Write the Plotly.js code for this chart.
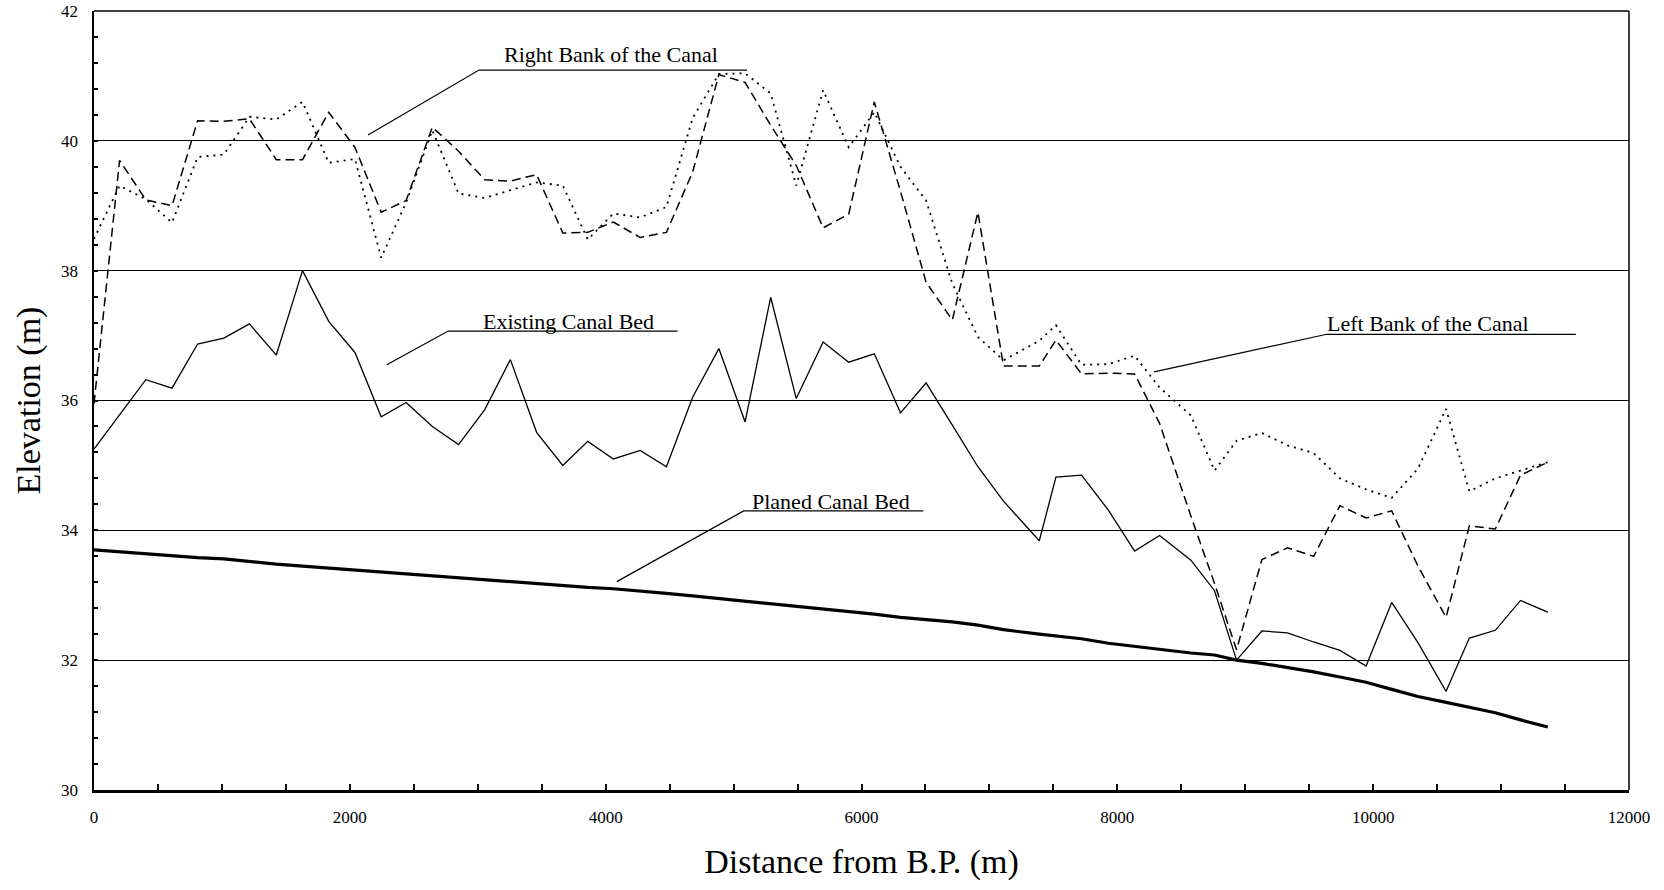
<!DOCTYPE html>
<html>
<head>
<meta charset="utf-8">
<script src="https://cdn.plot.ly/plotly-3.0.1.min.js"></script>
<style>
  html, body { margin: 0; padding: 0; background: #ffffff; }
  #chart { width: 1664px; height: 890px; }
</style>
</head>
<body>
<div id="chart"></div>
<script>
// Distance from B.P. (m) of the survey stations
const distance = [0, 200, 405, 610, 810, 1015, 1215, 1425, 1630, 1835,
  2040, 2245, 2440, 2645, 2850, 3055, 3255, 3460, 3665, 3860,
  4060, 4270, 4475, 4680, 4885, 5090, 5290, 5490, 5700, 5900,
  6100, 6305, 6505, 6710, 6910, 7110, 7390, 7520, 7720, 7930,
  8135, 8330, 8575, 8760, 8932, 9130, 9330, 9535, 9740, 9945,
  10145, 10350, 10570, 10752, 10955, 11152, 11365];

// Elevations (m)
const existingBed = [35.25, 35.78, 36.32, 36.19, 36.87, 36.96, 37.18, 36.70, 38.00, 37.22,
  36.74, 35.75, 35.97, 35.60, 35.32, 35.86, 36.63, 35.51, 35.00, 35.37,
  35.10, 35.23, 34.98, 36.05, 36.80, 35.67, 37.59, 36.03, 36.90, 36.59,
  36.72, 35.81, 36.27, 35.62, 34.98, 34.45, 33.84, 34.82, 34.85, 34.31,
  33.68, 33.92, 33.54, 33.07, 32.00, 32.45, 32.42, 32.28, 32.15, 31.91,
  32.89, 32.27, 31.52, 32.34, 32.46, 32.92, 32.74];

const bankDashed = [35.95, 39.70, 39.09, 39.00, 40.31, 40.30, 40.34, 39.71, 39.71, 40.44,
  39.90, 38.90, 39.08, 40.21, 39.84, 39.40, 39.38, 39.48, 38.58, 38.59,
  38.75, 38.51, 38.59, 39.52, 41.02, 40.90, 40.24, 39.62, 38.66, 38.87,
  40.60, 39.22, 37.82, 37.24, 38.90, 36.53, 36.53, 36.93, 36.41, 36.42,
  36.41, 35.65, 34.22, 33.18, 32.16, 33.55, 33.73, 33.60, 34.38, 34.19,
  34.30, 33.45, 32.66, 34.07, 34.02, 34.85, 35.05];

const bankDotted = [38.49, 39.31, 39.10, 38.74, 39.75, 39.79, 40.37, 40.33, 40.60, 39.66,
  39.72, 38.20, 39.05, 40.16, 39.19, 39.12, 39.24, 39.36, 39.31, 38.48,
  38.88, 38.82, 38.98, 40.35, 41.03, 41.04, 40.73, 39.31, 40.78, 39.90,
  40.44, 39.60, 39.08, 37.80, 36.98, 36.62, 36.92, 37.16, 36.55, 36.56,
  36.69, 36.20, 35.77, 34.92, 35.38, 35.50, 35.31, 35.19, 34.80, 34.63,
  34.50, 34.95, 35.87, 34.60, 34.80, 34.92, 35.05];

const plannedBed = [33.70, 33.67, 33.64, 33.61, 33.58, 33.56, 33.52, 33.48, 33.45, 33.42,
  33.39, 33.35, 33.32, 33.29, 33.27, 33.23, 33.21, 33.18, 33.15, 33.12,
  33.10, 33.07, 33.03, 32.99, 32.95, 32.91, 32.88, 32.83, 32.79, 32.75,
  32.71, 32.66, 32.63, 32.59, 32.54, 32.47, 32.40, 32.37, 32.33, 32.26,
  32.21, 32.16, 32.11, 32.08, 32.00, 31.95, 31.89, 31.82, 31.74, 31.66,
  31.55, 31.44, 31.35, 31.28, 31.19, 31.08, 30.97];

const labels = ['Right Bank of the Canal', 'Existing Canal Bed', 'Planed Canal Bed', 'Left Bank of the Canal'];
const xTitle = 'Distance from B.P. (m)';
const yTitle = 'Elevation (m)';

const FONT = '"Liberation Serif", "Times New Roman", Times, serif';

const traces = [
  { x: distance, y: bankDotted, mode: 'lines', name: 'Bank (dotted)',
    line: { color: '#000', width: 1.8, dash: '2px,5px' } },
  { x: distance, y: bankDashed, mode: 'lines', name: 'Bank (dashed)',
    line: { color: '#000', width: 1.5, dash: '9px,5px' } },
  { x: distance, y: existingBed, mode: 'lines', name: labels[1],
    line: { color: '#000', width: 1.3 } },
  { x: distance, y: plannedBed, mode: 'lines', name: labels[2],
    line: { color: '#000', width: 3.2 } }
];

// callout leader lines (label positions, in axis units)
const leaders = [
  'M 2142,40.09 L 3010,41.09 L 5105,41.09',
  'M 2289,36.55 L 2769,37.07 L 4562,37.07',
  'M 4087,33.21 L 5079,34.30 L 6483,34.30',
  'M 8287,36.44 L 9637,37.02 L 11584,37.02'
];
const labelPos = [
  { x: 3187, y: 41.33 },
  { x: 3029, y: 37.22 },
  { x: 5129, y: 34.44 },
  { x: 9624, y: 37.19 }
];

const shapes = leaders.map(p => ({
  type: 'path', xref: 'x', yref: 'y', path: p,
  line: { color: '#000', width: 1.2 }
}));
shapes.push({ type: 'line', xref: 'paper', yref: 'paper', x0: 1, x1: 1, y0: 0, y1: 1,
  line: { color: '#000', width: 1.5 } });
shapes.push({ type: 'line', xref: 'paper', yref: 'paper', x0: 0, x1: 1, y0: 1, y1: 1,
  line: { color: '#000', width: 1.5 } });

const annotations = labels.map((t, i) => ({
  text: t, x: labelPos[i].x, y: labelPos[i].y, xref: 'x', yref: 'y',
  xanchor: 'left', yanchor: 'middle', showarrow: false,
  font: { family: FONT, size: 22, color: '#000' }
}));

const layout = {
  width: 1664, height: 890,
  margin: { l: 94, r: 35, t: 11, b: 100, pad: 0 },
  paper_bgcolor: '#fff', plot_bgcolor: '#fff',
  showlegend: false,
  font: { family: FONT, color: '#000' },
  xaxis: {
    range: [0, 12000], tick0: 0, dtick: 2000, tickformat: 'd',
    ticks: 'inside', ticklen: 6, tickwidth: 2, tickcolor: '#000',
    showline: true, linewidth: 2.5, linecolor: '#000',
    showgrid: false, zeroline: false, automargin: false,
    tickfont: { family: FONT, size: 17, color: '#000' },
    ticklabelstandoff: 10,
    minor: { dtick: 500, tick0: 0, ticks: 'inside', ticklen: 6, tickwidth: 2, tickcolor: '#000', showgrid: false },
    title: { text: xTitle, font: { family: FONT, size: 34, color: '#000' }, standoff: 24 }
  },
  yaxis: {
    range: [30, 42], tick0: 30, dtick: 2,
    ticks: 'inside', ticklen: 4, tickwidth: 2, tickcolor: '#000',
    showline: true, linewidth: 2.5, linecolor: '#000',
    showgrid: true, gridcolor: '#000', gridwidth: 1.2, zeroline: false, automargin: false,
    tickfont: { family: FONT, size: 17, color: '#000' },
    ticklabelstandoff: 10,
    minor: { dtick: 0.4, tick0: 30, ticks: 'inside', ticklen: 4, tickwidth: 2, tickcolor: '#000', showgrid: false },
    title: { text: yTitle, font: { family: FONT, size: 34, color: '#000' }, standoff: 10 }
  },
  shapes: shapes,
  annotations: annotations
};

Plotly.newPlot('chart', traces, layout, { staticPlot: true, displayModeBar: false });
</script>
</body>
</html>
